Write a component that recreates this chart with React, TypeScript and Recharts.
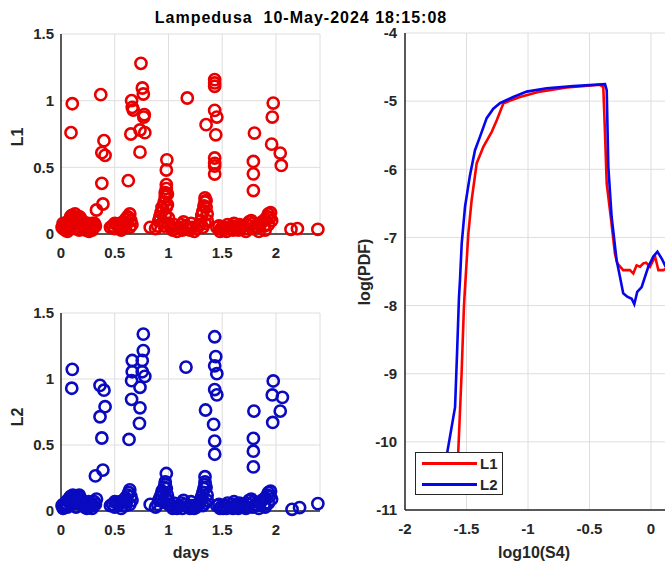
import React from 'react';
import { ScatterChart, Scatter, LineChart, Line, XAxis, YAxis, CartesianGrid } from 'recharts';

const titleText = 'Lampedusa  10-May-2024 18:15:08';
const dayTicks = [0, 0.5, 1, 1.5, 2];
const lTicks = [0, 0.5, 1, 1.5];
const s4Ticks = [-2, -1.5, -1, -0.5, 0];
const pdfTicks = [-11, -10, -9, -8, -7, -6, -5, -4];

// L1 scatter: [days, L1]
const l1Points: number[][] = [
  [0.01,0.05],[0.02,0.04],[0.03,0.06],[0.04,0.03],[0.05,0.07],[0.06,0.05],[0.07,0.09],[0.08,0.11],[0.09,0.13],[0.1,0.14],
  [0.11,0.12],[0.12,0.1],[0.13,0.15],[0.14,0.08],[0.15,0.06],[0.16,0.11],[0.17,0.13],[0.18,0.12],[0.19,0.09],[0.2,0.07],
  [0.21,0.05],[0.22,0.04],[0.23,0.03],[0.24,0.06],[0.25,0.04],[0.26,0.02],[0.27,0.05],[0.28,0.07],[0.29,0.03],[0.3,0.05],
  [0.31,0.08],[0.32,0.06],[0.02,0.08],[0.06,0.02],[0.09,0.06],[0.13,0.04],[0.17,0.03],[0.21,0.09],[0.25,0.08],[0.29,0.08],
  [0.105,0.977],[0.093,0.76],[0.37,1.045],[0.40,0.70],[0.38,0.61],[0.41,0.59],[0.38,0.38],[0.39,0.225],[0.33,0.18],
  [0.46,0.05],[0.48,0.06],[0.5,0.04],[0.52,0.07],[0.54,0.06],[0.55,0.08],[0.57,0.05],[0.58,0.09],[0.6,0.11],[0.61,0.08],
  [0.62,0.13],[0.63,0.12],[0.64,0.15],[0.65,0.1],[0.66,0.07],[0.5,0.08],[0.56,0.03],[0.6,0.05],[0.64,0.05],
  [0.744,1.28],[0.757,1.095],[0.766,1.05],[0.657,1.0],[0.663,0.95],[0.673,0.93],[0.775,0.895],[0.77,0.877],[0.65,0.75],
  [0.735,0.78],[0.78,0.76],[0.735,0.614],[0.626,0.40],
  [0.83,0.05],[0.88,0.04],[0.9,0.06],[0.91,0.1],[0.92,0.13],[0.93,0.16],[0.94,0.2],[0.95,0.18],[0.96,0.24],[0.97,0.28],
  [0.97,0.31],[0.98,0.34],[0.98,0.37],[0.99,0.3],[0.99,0.22],[1.0,0.12],[1.0,0.08],[0.985,0.556],[0.98,0.48],
  [0.95,0.09],[0.97,0.14],[0.96,0.06],[0.98,0.2],
  [1.02,0.05],[1.04,0.03],[1.06,0.04],[1.08,0.02],[1.1,0.05],[1.12,0.07],[1.14,0.09],[1.16,0.06],[1.18,0.04],[1.2,0.03],
  [1.22,0.05],[1.24,0.02],[1.26,0.04],[1.28,0.06],[1.175,1.02],[1.05,0.07],[1.13,0.03],[1.21,0.08],
  [1.29,0.07],[1.3,0.1],[1.31,0.14],[1.32,0.17],[1.33,0.21],[1.34,0.24],[1.34,0.27],[1.35,0.25],[1.35,0.2],[1.36,0.15],[1.36,0.1],
  [1.32,0.05],[1.34,0.08],
  [1.43,1.158],[1.43,1.133],[1.43,1.108],[1.43,0.927],[1.45,0.877],[1.35,0.82],[1.44,0.744],[1.43,0.57],[1.43,0.53],
  [1.43,0.51],[1.43,0.45],
  [1.45,0.05],[1.47,0.06],[1.49,0.04],[1.51,0.03],[1.53,0.05],[1.55,0.07],[1.57,0.04],[1.59,0.06],[1.61,0.08],[1.63,0.05],
  [1.65,0.03],[1.67,0.04],[1.48,0.02],[1.54,0.02],[1.6,0.03],[1.66,0.07],
  [1.69,0.06],[1.71,0.04],[1.73,0.07],[1.75,0.09],[1.77,0.1],[1.79,0.08],[1.81,0.06],[1.83,0.05],[1.85,0.07],[1.87,0.09],
  [1.89,0.06],[1.9,0.11],[1.92,0.13],[1.93,0.15],[1.94,0.12],[1.95,0.16],[1.96,0.1],[1.72,0.02],[1.78,0.04],[1.84,0.02],
  [1.9,0.03],[1.93,0.07],
  [1.80,0.757],[1.79,0.544],[1.79,0.451],[1.79,0.326],[1.975,0.982],[1.966,0.877],[1.96,0.674],[2.04,0.607],[2.05,0.514],
  [2.14,0.035],[2.2,0.04],[2.39,0.035],
];

// L2 scatter: [days, L2]
const l2Points: number[][] = [
  [0.01,0.04],[0.02,0.05],[0.03,0.03],[0.04,0.06],[0.05,0.05],[0.06,0.08],[0.07,0.07],[0.08,0.1],[0.09,0.11],[0.1,0.09],
  [0.11,0.12],[0.12,0.1],[0.13,0.08],[0.14,0.06],[0.15,0.09],[0.16,0.11],[0.17,0.12],[0.18,0.1],[0.19,0.08],[0.2,0.06],
  [0.21,0.05],[0.22,0.03],[0.23,0.04],[0.24,0.02],[0.25,0.05],[0.26,0.03],[0.27,0.04],[0.28,0.06],[0.29,0.02],[0.3,0.04],
  [0.31,0.07],[0.32,0.05],[0.33,0.09],[0.02,0.02],[0.06,0.03],[0.1,0.05],[0.14,0.03],[0.18,0.05],[0.26,0.07],
  [0.105,1.073],[0.10,0.93],[0.363,0.952],[0.40,0.915],[0.41,0.79],[0.363,0.714],[0.38,0.553],[0.39,0.31],[0.32,0.266],
  [0.46,0.04],[0.48,0.05],[0.5,0.03],[0.52,0.06],[0.54,0.05],[0.55,0.07],[0.57,0.04],[0.58,0.08],[0.6,0.1],[0.61,0.07],
  [0.62,0.12],[0.63,0.14],[0.64,0.16],[0.65,0.11],[0.66,0.08],[0.5,0.07],[0.56,0.02],[0.6,0.04],[0.64,0.05],
  [0.766,1.34],[0.766,1.215],[0.663,1.14],[0.756,1.14],[0.663,1.055],[0.756,1.055],[0.78,1.02],[0.657,0.987],[0.735,0.937],
  [0.657,0.846],[0.735,0.782],[0.73,0.664],[0.633,0.542],
  [0.83,0.05],[0.88,0.03],[0.9,0.05],[0.91,0.08],[0.92,0.1],[0.93,0.12],[0.94,0.15],[0.95,0.13],[0.96,0.18],[0.97,0.2],
  [0.97,0.22],[0.98,0.17],[0.98,0.284],[0.99,0.12],[1.0,0.08],[1.0,0.05],[0.95,0.07],[0.97,0.1],
  [1.02,0.04],[1.04,0.02],[1.06,0.03],[1.08,0.02],[1.1,0.04],[1.12,0.06],[1.14,0.08],[1.16,0.05],[1.18,0.03],[1.2,0.02],
  [1.22,0.04],[1.24,0.02],[1.26,0.03],[1.28,0.05],[1.163,1.09],[1.05,0.06],[1.13,0.02],[1.21,0.07],
  [1.29,0.06],[1.3,0.08],[1.31,0.11],[1.32,0.14],[1.33,0.17],[1.34,0.2],[1.34,0.22],[1.34,0.26],[1.35,0.18],[1.36,0.12],[1.36,0.08],
  [1.32,0.04],[1.34,0.06],
  [1.43,1.32],[1.44,1.17],[1.43,1.1],[1.45,1.04],[1.43,0.92],[1.45,0.88],[1.345,0.765],[1.42,0.656],[1.43,0.53],[1.43,0.43],
  [1.45,0.04],[1.47,0.05],[1.49,0.03],[1.51,0.02],[1.53,0.04],[1.55,0.06],[1.57,0.03],[1.59,0.05],[1.61,0.07],[1.63,0.04],
  [1.65,0.02],[1.67,0.03],[1.48,0.02],[1.54,0.02],[1.6,0.02],[1.66,0.06],
  [1.69,0.05],[1.71,0.03],[1.73,0.06],[1.75,0.08],[1.77,0.09],[1.79,0.07],[1.81,0.05],[1.83,0.04],[1.85,0.06],[1.87,0.08],
  [1.89,0.05],[1.9,0.1],[1.92,0.12],[1.93,0.14],[1.94,0.11],[1.95,0.15],[1.96,0.09],[1.72,0.02],[1.78,0.03],[1.84,0.02],
  [1.9,0.03],[1.93,0.06],
  [1.795,0.757],[1.79,0.55],[1.79,0.453],[1.79,0.334],[1.975,0.985],[1.966,0.879],[2.06,0.861],[2.04,0.757],[1.97,0.671],
  [2.15,0.013],[2.22,0.026],[2.39,0.056],
];

// PDF curves: [log10(S4), log(PDF)]
const pdfL1: number[][] = [
  [-1.575,-10.7],[-1.567,-10.15],[-1.54,-9.0],[-1.522,-8.07],[-1.518,-7.92],[-1.485,-6.94],[-1.458,-6.45],[-1.417,-5.91],
  [-1.363,-5.67],[-1.295,-5.45],[-1.254,-5.28],[-1.2,-5.03],[-1.065,-4.94],[-0.902,-4.86],[-0.685,-4.80],[-0.415,-4.76],
  [-0.388,-4.79],[-0.374,-5.47],[-0.36,-6.21],[-0.327,-6.70],[-0.293,-7.24],[-0.274,-7.38],[-0.226,-7.48],[-0.171,-7.48],
  [-0.144,-7.53],[-0.117,-7.41],[-0.089,-7.43],[-0.062,-7.38],[-0.04,-7.37],[-0.008,-7.43],[0.033,-7.28],[0.06,-7.48],
  [0.1,-7.48],[0.13,-7.45],
];
const pdfL2: number[][] = [
  [-1.67,-10.7],[-1.656,-10.15],[-1.593,-9.49],[-1.575,-8.61],[-1.561,-7.87],[-1.553,-7.63],[-1.539,-7.09],[-1.512,-6.55],
  [-1.472,-6.09],[-1.431,-5.72],[-1.39,-5.52],[-1.336,-5.25],[-1.282,-5.11],[-1.228,-5.03],[-1.12,-4.94],[-1.01,-4.86],
  [-0.848,-4.81],[-0.632,-4.78],[-0.374,-4.75],[-0.36,-4.84],[-0.347,-5.96],[-0.32,-6.70],[-0.28,-7.33],[-0.252,-7.58],
  [-0.226,-7.82],[-0.193,-7.87],[-0.157,-7.90],[-0.136,-7.98],[-0.112,-7.80],[-0.076,-7.73],[-0.049,-7.58],[-0.022,-7.43],
  [0.019,-7.28],[0.052,-7.21],[0.087,-7.31],[0.114,-7.41],[0.14,-7.5],
];

const toXY = (arr: number[][]) => arr.map(([x, y]) => ({ x, y }));

const AX = '#262626';
const GRID = '#dedede';
const tickStyle = { fill: AX, fontSize: 15, fontWeight: 'bold' as const };
const fmt = (v: number) => String(v);

const makeCircle = (color: string) => (props: any) => (
  <circle cx={props.cx} cy={props.cy} r={5.6} fill="none" stroke={color} strokeWidth={2.6} />
);

function ScatterPanel({ data, color, top, height, marginTop, plotH }: { data: number[][]; color: string; top: number; height: number; marginTop: number; plotH: number }) {
  return (
    <div style={{ position: 'absolute', left: 0, top, width: 340, height }}>
      <ScatterChart width={340} height={height} margin={{ top: marginTop, right: 20, left: 21, bottom: height - marginTop - plotH - 20 }}>
        <CartesianGrid stroke={GRID} strokeWidth={1} />
        <XAxis type="number" dataKey="x" domain={[0, 2.41]} ticks={dayTicks}
          stroke={AX} strokeWidth={1.5} tickLine={false} tickMargin={7} tick={tickStyle} height={20} tickFormatter={fmt} />
        <YAxis type="number" dataKey="y" domain={[0, 1.5]} ticks={lTicks}
          stroke={AX} strokeWidth={1.5} tickLine={false} tickMargin={1} tick={tickStyle} width={40} tickFormatter={fmt} />
        <Scatter data={toXY(data)} shape={makeCircle(color)} isAnimationActive={false} />
      </ScatterChart>
    </div>
  );
}

const labelStyle: React.CSSProperties = {
  position: 'absolute', color: AX, fontWeight: 'bold', fontSize: 16, whiteSpace: 'pre',
};

export default function App() {
  return (
    <div style={{ position: 'fixed', left: 0, top: 0, width: 665, height: 564, overflow: 'hidden', background: '#fff',
      fontFamily: '"Liberation Sans", Arial, Helvetica, sans-serif' }}>
      <div style={{ ...labelStyle, left: 301, top: 18, fontSize: 16, letterSpacing: 1.0, transform: 'translate(-50%, -50%)', color: '#000' }}>
        {titleText}
      </div>

      <ScatterPanel data={l1Points} color="#e80000" top={0} height={270} marginTop={34} plotH={200} />
      <ScatterPanel data={l2Points} color="#0a0ac0" top={280} height={284} marginTop={33} plotH={198} />

      <div style={{ ...labelStyle, left: 18, top: 137, transform: 'translate(-50%, -50%) rotate(-90deg)' }}>L1</div>
      <div style={{ ...labelStyle, left: 18, top: 417, transform: 'translate(-50%, -50%) rotate(-90deg)' }}>L2</div>
      <div style={{ ...labelStyle, left: 191, top: 553, transform: 'translate(-50%, -50%)' }}>days</div>

      <div style={{ position: 'absolute', left: 340, top: 0, width: 400, height: 564 }}>
        <LineChart width={400} height={564} margin={{ top: 33, right: 27.5, left: 20, bottom: 34 }}>
          <CartesianGrid stroke={GRID} strokeWidth={1} />
          <XAxis type="number" dataKey="x" domain={[-2, 0.5]} ticks={s4Ticks} allowDataOverflow
            stroke={AX} strokeWidth={1.5} tickLine={false} tickMargin={7} tick={tickStyle} height={20} tickFormatter={fmt} />
          <YAxis type="number" dataKey="y" domain={[-11, -4]} ticks={pdfTicks} allowDataOverflow
            stroke={AX} strokeWidth={1.5} tickLine={false} tickMargin={2} tick={tickStyle} width={45} tickFormatter={fmt} />
          <Line data={toXY(pdfL1)} dataKey="y" stroke="#ff0000" strokeWidth={2.6} dot={false} isAnimationActive={false} />
          <Line data={toXY(pdfL2)} dataKey="y" stroke="#0505ee" strokeWidth={2.6} dot={false} isAnimationActive={false} />
        </LineChart>
      </div>

      <div style={{ ...labelStyle, left: 365, top: 272, transform: 'translate(-50%, -50%) rotate(-90deg)' }}>log(PDF)</div>
      <div style={{ ...labelStyle, left: 534, top: 553, transform: 'translate(-50%, -50%)' }}>log10(S4)</div>

      <div style={{ position: 'absolute', left: 415, top: 452, width: 88, height: 43, border: `1px solid ${AX}`, background: '#fff', boxSizing: 'border-box' }}>
        <div style={{ position: 'absolute', left: 6, top: 9, width: 55, height: 3, background: '#ff0000' }} />
        <div style={{ ...labelStyle, left: 64, top: 10, fontSize: 15, transform: 'translateY(-50%)' }}>L1</div>
        <div style={{ position: 'absolute', left: 6, top: 30, width: 55, height: 3, background: '#0505ee' }} />
        <div style={{ ...labelStyle, left: 64, top: 31, fontSize: 15, transform: 'translateY(-50%)' }}>L2</div>
      </div>
    </div>
  );
}
